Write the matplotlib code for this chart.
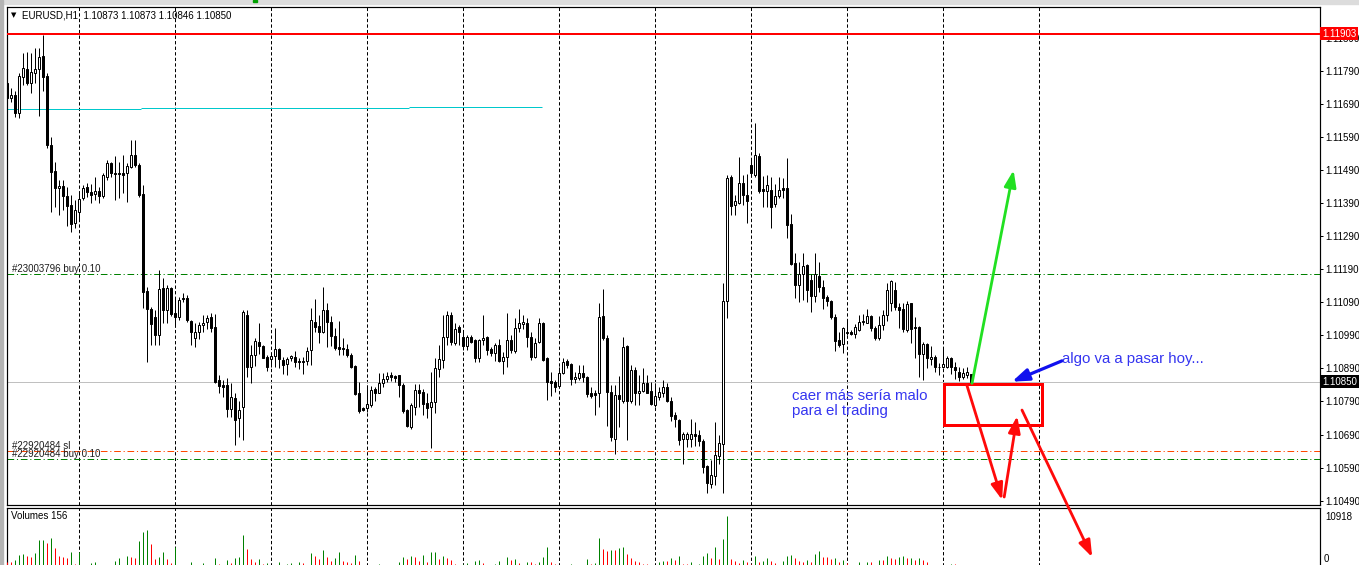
"""
MT4-style EURUSD H1 screenshot with hand-drawn trade notes.
Candles, volumes, order lines and the drawing objects are rebuilt on
bar-index / price coordinates; out.png is 1359x565.
"""
import matplotlib
matplotlib.use("Agg")
import matplotlib.pyplot as plt
import matplotlib.transforms as mtransforms
from matplotlib.patches import Rectangle

plt.rcParams["font.family"] = ["Liberation Sans", "DejaVu Sans"]
plt.rcParams["lines.scale_dashes"] = False

FIG_W, FIG_H, DPI = 1359, 565, 100
PX = 72.0 / DPI          # one screen pixel in points

# ---------------------------------------------------------------------------
# data
# ---------------------------------------------------------------------------

OPEN = [
    1.11753, 1.11708, 1.11718, 1.11662, 1.11773, 1.11795, 1.11755, 1.11785, 1.11795, 1.11835,
    1.11775, 1.11566, 1.11487, 1.11435, 1.11442, 1.11412, 1.11384, 1.11329, 1.11364, 1.11405,
    1.11440, 1.11425, 1.11417, 1.11427, 1.11412, 1.11470, 1.11513, 1.11480, 1.11480, 1.11480,
    1.11480, 1.11500, 1.11536, 1.11507, 1.11418, 1.11124, 1.11069, 1.11046, 1.10991, 1.11132,
    1.11067, 1.11132, 1.11058, 1.11046, 1.11104, 1.11104, 1.11034, 1.10981, 1.11000, 1.11021,
    1.11029, 1.11046, 1.11016, 1.10855, 1.10840, 1.10840, 1.10766, 1.10800, 1.10739, 1.10774,
    1.11052, 1.10893, 1.10932, 1.10969, 1.10958, 1.10926, 1.10918, 1.10928, 1.10949, 1.10916,
    1.10903, 1.10921, 1.10926, 1.10913, 1.10913, 1.10913, 1.10946, 1.11031, 1.11018, 1.11001,
    1.11067, 1.11031, 1.10987, 1.10955, 1.10952, 1.10950, 1.10931, 1.10897, 1.10815, 1.10769,
    1.10769, 1.10780, 1.10827, 1.10817, 1.10845, 1.10857, 1.10870, 1.10868, 1.10870, 1.10840,
    1.10764, 1.10713, 1.10774, 1.10825, 1.10819, 1.10785, 1.10772, 1.10787, 1.10887, 1.10916,
    1.10984, 1.11051, 1.10966, 1.11014, 1.10984, 1.10959, 1.10985, 1.10975, 1.10922, 1.10975,
    1.10984, 1.10949, 1.10936, 1.10961, 1.10914, 1.10924, 1.10976, 1.10944, 1.11012, 1.11024,
    1.11027, 1.10984, 1.10924, 1.10969, 1.11028, 1.10921, 1.10852, 1.10850, 1.10838, 1.10876,
    1.10913, 1.10904, 1.10857, 1.10862, 1.10877, 1.10865, 1.10815, 1.10815, 1.10815, 1.11049,
    1.10981, 1.10819, 1.10677, 1.10810, 1.10792, 1.10958, 1.10792, 1.10885, 1.10815, 1.10822,
    1.10847, 1.10822, 1.10780, 1.10803, 1.10817, 1.10834, 1.10792, 1.10749, 1.10734, 1.10675,
    1.10677, 1.10677, 1.10691, 1.10688, 1.10671, 1.10595, 1.10541, 1.10564, 1.10625, 1.10662,
    1.11094, 1.11468, 1.11384, 1.11391, 1.11452, 1.11415, 1.11505, 1.11475, 1.11533, 1.11432,
    1.11428, 1.11430, 1.11389, 1.11412, 1.11435, 1.11437, 1.11327, 1.11210, 1.11142, 1.11175,
    1.11202, 1.11159, 1.11108, 1.11169, 1.11135, 1.11105, 1.11094, 1.11046, 1.10976, 1.10964,
    1.10997, 1.10999, 1.10994, 1.11006, 1.11031, 1.11028, 1.11049, 1.11011, 1.10981, 1.11021,
    1.11052, 1.11087, 1.11127, 1.11077, 1.11069, 1.11006, 1.11087, 1.11016, 1.11016, 1.10934,
    1.10964, 1.10918, 1.10924, 1.10895, 1.10893, 1.10895, 1.10921, 1.10895, 1.10880, 1.10865,
    1.10870, 1.10873,
]
HIGH = [
    1.11773, 1.11738, 1.11728, 1.11783, 1.11844, 1.11848, 1.11844, 1.11859, 1.11859, 1.11899,
    1.11783, 1.11591, 1.11515, 1.11460, 1.11460, 1.11440, 1.11415, 1.11400, 1.11420, 1.11445,
    1.11450, 1.11448, 1.11470, 1.11440, 1.11480, 1.11521, 1.11515, 1.11533, 1.11515, 1.11536,
    1.11511, 1.11581, 1.11581, 1.11511, 1.11445, 1.11137, 1.11077, 1.11067, 1.11188, 1.11163,
    1.11142, 1.11136, 1.11106, 1.11107, 1.11117, 1.11112, 1.11037, 1.11027, 1.11031, 1.11052,
    1.11052, 1.11058, 1.11056, 1.10870, 1.10855, 1.10860, 1.10845, 1.10815, 1.10790, 1.11067,
    1.11067, 1.10961, 1.10981, 1.11028, 1.10961, 1.10931, 1.10934, 1.11011, 1.10951, 1.10924,
    1.10926, 1.10931, 1.10944, 1.10921, 1.10926, 1.10956, 1.11072, 1.11100, 1.11052, 1.11137,
    1.11089, 1.11049, 1.11013, 1.11035, 1.10981, 1.10965, 1.10936, 1.10900, 1.10850, 1.10774,
    1.10840, 1.10837, 1.10834, 1.10876, 1.10876, 1.10880, 1.10880, 1.10870, 1.10870, 1.10845,
    1.10766, 1.10785, 1.10843, 1.10843, 1.10827, 1.10815, 1.10878, 1.10921, 1.10961, 1.11052,
    1.11064, 1.11062, 1.11028, 1.11021, 1.11006, 1.10991, 1.10991, 1.10979, 1.10979, 1.11052,
    1.10987, 1.10955, 1.10966, 1.10979, 1.10941, 1.11058, 1.10991, 1.11042, 1.11069, 1.11052,
    1.11042, 1.11001, 1.10981, 1.11042, 1.11031, 1.10926, 1.10880, 1.10855, 1.10893, 1.10921,
    1.10918, 1.10906, 1.10880, 1.10901, 1.10901, 1.10867, 1.10834, 1.10825, 1.11087, 1.11130,
    1.10991, 1.10840, 1.10840, 1.10867, 1.10984, 1.10961, 1.10901, 1.10893, 1.10870, 1.10890,
    1.10870, 1.10850, 1.10845, 1.10834, 1.10855, 1.10845, 1.10805, 1.10758, 1.10736, 1.10698,
    1.10698, 1.10736, 1.10728, 1.10704, 1.10675, 1.10598, 1.10613, 1.10728, 1.10688, 1.11147,
    1.11475, 1.11475, 1.11415, 1.11530, 1.11475, 1.11478, 1.11523, 1.11633, 1.11541, 1.11472,
    1.11475, 1.11470, 1.11448, 1.11470, 1.11467, 1.11526, 1.11357, 1.11238, 1.11213, 1.11238,
    1.11207, 1.11177, 1.11238, 1.11213, 1.11158, 1.11112, 1.11097, 1.11056, 1.11001, 1.11016,
    1.11037, 1.11006, 1.11025, 1.11052, 1.11055, 1.11069, 1.11052, 1.11018, 1.11049, 1.11067,
    1.11147, 1.11158, 1.11152, 1.11087, 1.11087, 1.11094, 1.11089, 1.11046, 1.11018, 1.10970,
    1.10966, 1.10958, 1.10931, 1.10906, 1.10951, 1.10928, 1.10924, 1.10910, 1.10895, 1.10890,
    1.10893, 1.10873,
]
LOW = [
    1.11692, 1.11697, 1.11650, 1.11647, 1.11748, 1.11748, 1.11723, 1.11753, 1.11654, 1.11728,
    1.11556, 1.11364, 1.11379, 1.11354, 1.11369, 1.11321, 1.11304, 1.11314, 1.11339, 1.11400,
    1.11410, 1.11391, 1.11400, 1.11390, 1.11405, 1.11460, 1.11470, 1.11400, 1.11405, 1.11420,
    1.11395, 1.11495, 1.11500, 1.11410, 1.11072, 1.10910, 1.10961, 1.10961, 1.10961, 1.11027,
    1.11027, 1.11049, 1.11015, 1.11037, 1.11092, 1.11031, 1.10961, 1.10954, 1.10978, 1.11001,
    1.11008, 1.11001, 1.10845, 1.10815, 1.10805, 1.10744, 1.10744, 1.10658, 1.10683, 1.10673,
    1.10865, 1.10847, 1.10897, 1.10934, 1.10921, 1.10882, 1.10895, 1.10893, 1.10890, 1.10874,
    1.10871, 1.10911, 1.10895, 1.10887, 1.10874, 1.10901, 1.10901, 1.11001, 1.10966, 1.10996,
    1.10954, 1.10958, 1.10946, 1.10931, 1.10931, 1.10926, 1.10890, 1.10810, 1.10754, 1.10762,
    1.10758, 1.10774, 1.10790, 1.10815, 1.10834, 1.10850, 1.10853, 1.10850, 1.10805, 1.10754,
    1.10713, 1.10708, 1.10749, 1.10774, 1.10749, 1.10739, 1.10648, 1.10754, 1.10865, 1.10890,
    1.10961, 1.10961, 1.10961, 1.10961, 1.10946, 1.10946, 1.10966, 1.10910, 1.10910, 1.10962,
    1.10931, 1.10928, 1.10913, 1.10910, 1.10872, 1.10893, 1.10937, 1.10938, 1.11001, 1.11008,
    1.10956, 1.10916, 1.10921, 1.10966, 1.10914, 1.10795, 1.10807, 1.10819, 1.10833, 1.10872,
    1.10890, 1.10840, 1.10845, 1.10855, 1.10850, 1.10805, 1.10800, 1.10749, 1.10774, 1.10976,
    1.10715, 1.10670, 1.10632, 1.10713, 1.10785, 1.10673, 1.10785, 1.10780, 1.10780, 1.10819,
    1.10815, 1.10780, 1.10774, 1.10795, 1.10805, 1.10789, 1.10731, 1.10713, 1.10658, 1.10601,
    1.10653, 1.10653, 1.10655, 1.10655, 1.10573, 1.10512, 1.10527, 1.10537, 1.10601, 1.10514,
    1.11044, 1.11354, 1.11354, 1.11389, 1.11384, 1.11331, 1.11470, 1.11470, 1.11422, 1.11379,
    1.11377, 1.11315, 1.11379, 1.11405, 1.11405, 1.11284, 1.11203, 1.11102, 1.11092, 1.11097,
    1.11092, 1.11062, 1.11092, 1.11122, 1.11069, 1.11079, 1.11039, 1.10944, 1.10955, 1.10938,
    1.10991, 1.10991, 1.10981, 1.11004, 1.11021, 1.11026, 1.11004, 1.10976, 1.10976, 1.11006,
    1.11034, 1.11064, 1.11067, 1.11011, 1.11001, 1.11001, 1.10966, 1.10921, 1.10865, 1.10855,
    1.10890, 1.10901, 1.10880, 1.10870, 1.10890, 1.10890, 1.10872, 1.10857, 1.10853, 1.10857,
    1.10860, 1.10846,
]
CLOSE = [
    1.11708, 1.11718, 1.11664, 1.11775, 1.11798, 1.11755, 1.11788, 1.11795, 1.11831, 1.11771,
    1.11566, 1.11485, 1.11435, 1.11442, 1.11412, 1.11381, 1.11327, 1.11369, 1.11402, 1.11435,
    1.11425, 1.11415, 1.11427, 1.11412, 1.11475, 1.11511, 1.11480, 1.11477, 1.11477, 1.11474,
    1.11502, 1.11536, 1.11505, 1.11415, 1.11122, 1.11069, 1.11024, 1.10991, 1.11129, 1.11067,
    1.11132, 1.11055, 1.11046, 1.11097, 1.11099, 1.11037, 1.11000, 1.11000, 1.11021, 1.11028,
    1.11043, 1.11011, 1.10850, 1.10837, 1.10834, 1.10766, 1.10805, 1.10734, 1.10764, 1.11062,
    1.10895, 1.10932, 1.10973, 1.10959, 1.10923, 1.10895, 1.10927, 1.10948, 1.10918, 1.10901,
    1.10918, 1.10928, 1.10909, 1.10909, 1.10910, 1.10943, 1.11037, 1.11016, 1.11001, 1.11067,
    1.11031, 1.10988, 1.10952, 1.10949, 1.10949, 1.10931, 1.10895, 1.10813, 1.10762, 1.10764,
    1.10781, 1.10825, 1.10815, 1.10845, 1.10857, 1.10867, 1.10865, 1.10862, 1.10840, 1.10762,
    1.10715, 1.10780, 1.10825, 1.10817, 1.10782, 1.10769, 1.10788, 1.10890, 1.10918, 1.10984,
    1.11051, 1.10969, 1.11009, 1.11000, 1.10959, 1.10984, 1.10969, 1.10921, 1.10976, 1.10982,
    1.10946, 1.10936, 1.10961, 1.10913, 1.10924, 1.10976, 1.10946, 1.11012, 1.11027, 1.11031,
    1.10984, 1.10924, 1.10966, 1.11027, 1.10916, 1.10850, 1.10847, 1.10834, 1.10876, 1.10909,
    1.10901, 1.10857, 1.10863, 1.10877, 1.10865, 1.10813, 1.10807, 1.10810, 1.11045, 1.10981,
    1.10819, 1.10683, 1.10810, 1.10797, 1.10955, 1.10792, 1.10885, 1.10815, 1.10822, 1.10847,
    1.10817, 1.10782, 1.10807, 1.10818, 1.10833, 1.10790, 1.10746, 1.10736, 1.10673, 1.10691,
    1.10691, 1.10691, 1.10685, 1.10671, 1.10593, 1.10543, 1.10567, 1.10628, 1.10664, 1.11094,
    1.11465, 1.11381, 1.11397, 1.11450, 1.11415, 1.11397, 1.11480, 1.11536, 1.11428, 1.11428,
    1.11445, 1.11379, 1.11412, 1.11430, 1.11430, 1.11324, 1.11206, 1.11142, 1.11175, 1.11199,
    1.11127, 1.11108, 1.11175, 1.11135, 1.11102, 1.11094, 1.11045, 1.10973, 1.10961, 1.11012,
    1.10999, 1.10994, 1.11014, 1.11031, 1.11034, 1.11049, 1.11011, 1.10981, 1.11021, 1.11052,
    1.11127, 1.11156, 1.11077, 1.11067, 1.11008, 1.11085, 1.11008, 1.11011, 1.10934, 1.10964,
    1.10921, 1.10926, 1.10893, 1.10893, 1.10903, 1.10921, 1.10893, 1.10885, 1.10865, 1.10877,
    1.10878, 1.10850,
]
VOLUME = [
    1300, 1200, 1600, 2700, 3000, 2500, 2300, 3100, 5800, 5900,
    5300, 6200, 4200, 2600, 2300, 2200, 3400, 900, 3300, 700,
    500, 1000, 1300, 600, 700, 500, 400, 1400, 2000, 600,
    2600, 2400, 2100, 5700, 7600, 7900, 5100, 1800, 2300, 3300,
    1900, 1100, 4400, 700, 500, 600, 1200, 300, 700, 1100,
    500, 300, 2200, 900, 600, 1600, 1100, 2200, 2400, 6900,
    3900, 1900, 1200, 1900, 800, 1000, 700, 600, 1300, 500,
    900, 1100, 600, 1300, 1000, 400, 3100, 2600, 1800, 3800,
    2300, 1500, 2100, 3300, 1400, 1200, 1000, 2700, 1500, 700,
    300, 500, 200, 900, 500, 300, 200, 500, 1300, 2400,
    1800, 2500, 2400, 1400, 2700, 1200, 3300, 3400, 1900, 2600,
    2100, 1700, 800, 700, 900, 1100, 500, 1400, 1700, 1000,
    700, 500, 800, 1500, 600, 2300, 1600, 1800, 1000, 600,
    1300, 1200, 900, 1300, 2400, 4400, 1300, 900, 600, 500,
    400, 900, 300, 500, 600, 1900, 800, 1000, 6400, 3900,
    3600, 3700, 3700, 4200, 4500, 3000, 2100, 1500, 1200, 900,
    800, 700, 600, 1300, 1500, 1400, 2000, 1700, 2500, 900,
    800, 1200, 600, 800, 2600, 3200, 2200, 4400, 1900, 6100,
    10918, 1800, 1400, 1100, 1700, 1300, 800, 2500, 1200, 1400,
    2000, 1400, 1000, 700, 1500, 2500, 2800, 2100, 1400, 1300,
    1700, 1200, 2900, 3500, 2400, 2400, 1900, 2200, 1300, 1700,
    1000, 300, 400, 1300, 700, 1200, 1200, 600, 1700, 1600,
    2600, 2000, 1900, 2400, 2500, 2100, 2200, 1600, 2200, 1600,
    1200, 700, 600, 500, 700, 600, 800, 800, 400, 300,
    300, 156,
]

PRICE_TICKS = [1.11890, 1.11790, 1.11690, 1.11590, 1.11490, 1.11390, 1.11290, 1.11190,
               1.11090, 1.10990, 1.10890, 1.10790, 1.10690, 1.10590, 1.10490]
DAY_STARTS = [18, 42, 66, 90, 114, 138, 162, 186, 210, 234, 258]

RESISTANCE = 1.11903
PIVOT_FROM = [0.0, 33.5, 100.5]
PIVOT_TO = [33.5, 100.5, 133.75]
PIVOT_LEVEL = [1.11675, 1.11677, 1.11680]

ORDER_LABELS = ["#23003796 buy 0.10", "#22920484 sl", "#22920484 buy 0.10"]
ORDER_PRICES = [1.11175, 1.10639, 1.10615]
ORDER_COLORS = ["#008000", "#ff4800", "#008000"]

# drawing objects: (bar index, price) pairs
GREEN_ARROW = [(241.2, 1.10845), (251.6, 1.11490)]
BLUE_ARROW = [(263.7, 1.10913), (251.2, 1.10850)]
RED_ARROWS = [
    [(239.9, 1.10840), (248.75, 1.10492)],
    [(249.25, 1.10501), (252.5, 1.10746)],
    [(253.7, 1.10764), (271.25, 1.10319)],
]
RED_BOX = [(234.3, 1.10719), (258.7, 1.10843)]

NOTE_TOP = ("algo va a pasar hoy...", 263.8, 1.10918)
NOTE_LEFT = ("caer más sería malo\npara el trading", 196.2, 1.10827)

# ---------------------------------------------------------------------------
# layout (screen pixels of the original screenshot)
# ---------------------------------------------------------------------------

PLOT_L, PLOT_R = 7, 1320
MAIN_T, MAIN_B = 7, 505
VOL_T, VOL_B = 508, 568
BAR_PX = 4.0
Y_TOP, Y_BOT = 1.119836, 1.104768
VOL_AXIS_TOP = 12600

BLUE_TXT = "#3535f0"


def px_rect(x0, y0, x1, y1):
    return [x0 / FIG_W, 1 - y1 / FIG_H, (x1 - x0) / FIG_W, (y1 - y0) / FIG_H]


def draw_candles(ax):
    for i, (o, h, l, c) in enumerate(zip(OPEN, HIGH, LOW, CLOSE)):
        ax.vlines(i, l, h, color="black", lw=PX, zorder=3)
        bull = c >= o
        body = max(abs(c - o), 0.000004)
        ax.bar(i, body, bottom=min(o, c), width=0.58,
               facecolor="white" if bull else "black",
               edgecolor="black", linewidth=PX, zorder=4)


def draw_arrow(ax, start, tip, color, lw):
    ax.annotate("", xy=tip, xytext=start, xycoords="data", textcoords="data",
                annotation_clip=False, zorder=8,
                arrowprops=dict(arrowstyle="-|>,head_length=1.0,head_width=0.36",
                                color=color, lw=lw, shrinkA=0, shrinkB=0,
                                mutation_scale=10))


def main():
    fig = plt.figure(figsize=(FIG_W / DPI, FIG_H / DPI), dpi=DPI)
    fig.patch.set_facecolor("white")

    # window chrome
    fig.patches.append(Rectangle((0, 1 - 4 / FIG_H), 1, 4 / FIG_H,
                                 transform=fig.transFigure, color="#dcdcdc", zorder=0))
    fig.patches.append(Rectangle((0, 0), 3 / FIG_W, 1, transform=fig.transFigure,
                                 color="#b4b4b4", zorder=0))
    fig.patches.append(Rectangle((253 / FIG_W, 1 - 2 / FIG_H), 4 / FIG_W, 2 / FIG_H,
                                 transform=fig.transFigure, color="#00a000", zorder=1))

    ax_v = fig.add_axes(px_rect(PLOT_L, VOL_T, PLOT_R, VOL_B))
    ax = fig.add_axes(px_rect(PLOT_L, MAIN_T, PLOT_R, MAIN_B))
    ax.set_zorder(3)
    x_left = -0.05
    x_right = x_left + (PLOT_R - PLOT_L) / BAR_PX

    for a in (ax, ax_v):
        a.set_xlim(x_left, x_right)
        a.set_xticks([])
        for s in a.spines.values():
            s.set_linewidth(PX * 1.2)
            s.set_color("black")
        a.yaxis.tick_right()
        for d in DAY_STARTS:
            a.axvline(d, color="black", lw=PX, linestyle=(0, (2.4, 1.6)), zorder=1)

    # ---- price panel
    ax.set_ylim(Y_BOT, Y_TOP)
    ax.set_yticks(PRICE_TICKS)
    ax.set_yticklabels([f"{p:.5f}" for p in PRICE_TICKS])
    ax.tick_params(axis="y", direction="out", length=3 * PX, width=PX,
                   pad=1.5, labelsize=7, colors="black")

    ax.axhline(RESISTANCE, color="#ff0000", lw=2 * PX, zorder=5)
    for x0, x1, lvl in zip(PIVOT_FROM, PIVOT_TO, PIVOT_LEVEL):
        ax.hlines(lvl, x0, x1, color="#00c8cc", lw=PX, zorder=2)
    ax.axhline(CLOSE[-1], color="#c0c0c0", lw=PX, zorder=2)

    blend = mtransforms.blended_transform_factory(ax.transAxes, ax.transData)
    for label, price, col in zip(ORDER_LABELS, ORDER_PRICES, ORDER_COLORS):
        ax.axhline(price, color=col, lw=PX, linestyle=(0, (4.8, 2.0, 0.8, 2.0)), zorder=2)
        ax.annotate(label, xy=(0, price), xycoords=blend, xytext=(5 * PX, 0.5 * PX),
                    textcoords="offset points", ha="left", va="bottom",
                    fontsize=7, color="#1e1e1e", zorder=6)

    draw_candles(ax)

    # price tags on the scale (the red one sits over the 1.11890 label, as in MT4)
    tag = mtransforms.offset_copy(blend, fig=fig, x=2.2 * PX, y=0, units="points")
    ax.text(1.0, RESISTANCE, f"{RESISTANCE:.5f}", transform=tag, ha="left", va="center",
            fontsize=7, color="white", clip_on=False, zorder=10,
            bbox=dict(boxstyle="square,pad=0.18", fc="#ff0000", ec="none"))
    ax.text(1.0, CLOSE[-1], f"{CLOSE[-1]:.5f}", transform=tag, ha="left", va="center",
            fontsize=7, color="white", clip_on=False, zorder=10,
            bbox=dict(boxstyle="square,pad=0.18", fc="black", ec="none"))

    # header
    ax.text(4 / (PLOT_R - PLOT_L), 1 - 8 / (MAIN_B - MAIN_T), "▼", transform=ax.transAxes,
            family="DejaVu Sans", fontsize=5, ha="left", va="center", color="black")
    ax.text(15 / (PLOT_R - PLOT_L), 1 - 8 / (MAIN_B - MAIN_T),
            f"EURUSD,H1  {OPEN[-1]:.5f} {HIGH[-1]:.5f} {LOW[-1]:.5f} {CLOSE[-1]:.5f}",
            transform=ax.transAxes, fontsize=7, ha="left", va="center", color="black")
    # chart-shift marker
    ax.plot([x_left + (978 - PLOT_L) / BAR_PX], [1.0], marker="v", ms=6, color="#a8a8a8",
            transform=blend, clip_on=False, zorder=9)

    # drawings
    (bx0, by0), (bx1, by1) = RED_BOX
    ax.add_patch(Rectangle((bx0, by0), bx1 - bx0, by1 - by0, fill=False,
                           edgecolor="#ff0000", lw=3 * PX, zorder=7))
    draw_arrow(ax, GREEN_ARROW[0], GREEN_ARROW[1], "#22e022", 2.8 * PX)
    draw_arrow(ax, BLUE_ARROW[0], BLUE_ARROW[1], "#1010ee", 3.2 * PX)
    for start, tip in RED_ARROWS:
        draw_arrow(ax, start, tip, "#ff0a0a", 2.8 * PX)

    ax.text(NOTE_TOP[1], NOTE_TOP[2], NOTE_TOP[0], fontsize=10.8, color=BLUE_TXT,
            ha="left", va="center", zorder=8)
    ax.text(NOTE_LEFT[1], NOTE_LEFT[2], NOTE_LEFT[0], fontsize=10.8, color=BLUE_TXT,
            ha="left", va="top", linespacing=1.05, zorder=8)

    # ---- volume panel
    vmax = max(VOLUME)
    colors = ["#ff0000"] + ["#008000" if VOLUME[i] > VOLUME[i - 1] else "#ff0000"
                            for i in range(1, len(VOLUME))]
    ax_v.vlines(range(len(VOLUME)), 0, VOLUME, colors=colors, lw=PX, zorder=3)
    ax_v.set_ylim(0, VOL_AXIS_TOP)
    ax_v.set_yticks([vmax])
    ax_v.set_yticklabels([f"{vmax}"])
    ax_v.tick_params(axis="y", length=0, pad=4, labelsize=7, colors="black")
    ax_v.text(1.0, 0.15, "0", transform=mtransforms.offset_copy(
        ax_v.transAxes, fig=fig, x=4 * PX, y=0, units="points"),
        ha="left", va="center", fontsize=7, clip_on=False)
    ax_v.text(4 / (PLOT_R - PLOT_L), 1 - 8 / (VOL_B - VOL_T), f"Volumes {VOLUME[-1]}",
              transform=ax_v.transAxes, fontsize=7, ha="left", va="center")

    fig.savefig("out.png", dpi=DPI)
    plt.close(fig)


if __name__ == "__main__":
    main()
